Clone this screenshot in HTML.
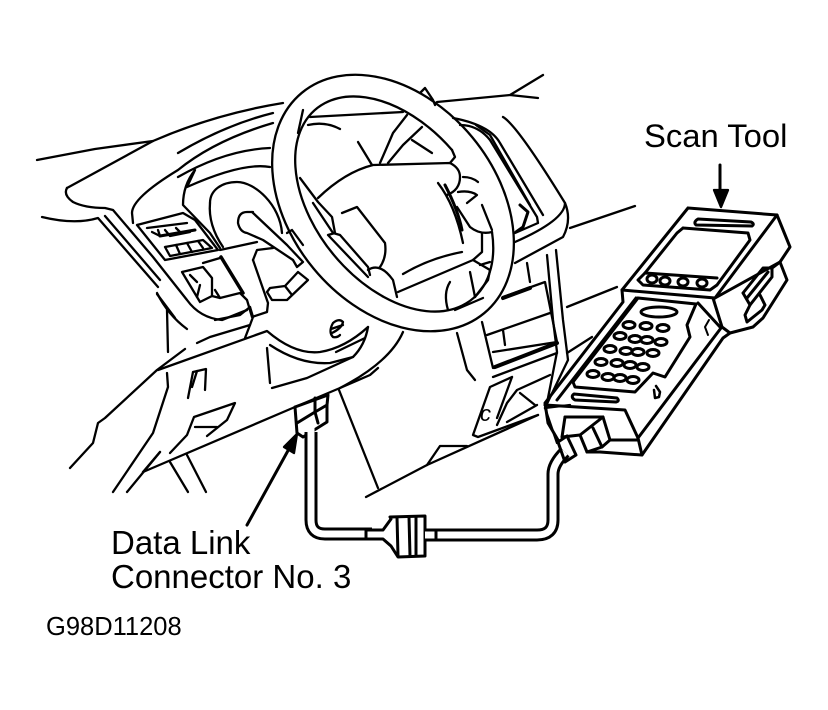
<!DOCTYPE html>
<html><head><meta charset="utf-8"><style>
html,body{margin:0;padding:0;background:#fff}
svg{display:block}
polyline,path,ellipse,rect{fill:none;stroke:#000;stroke-width:2.3;stroke-linejoin:round;stroke-linecap:round}
.t polyline,.t path,.t ellipse{stroke-width:3}
text{font-family:"Liberation Sans",sans-serif;fill:#000}
</style></head><body>
<svg width="828" height="710" viewBox="0 0 828 710" xmlns="http://www.w3.org/2000/svg">
<!-- dash left -->
<polyline points="37,160 95,149 153,141"/>
<path d="M67,188 L153,141 Q215,114 283,103"/>
<path d="M67,188 Q63,195 73,202 Q85,208 105,208 L113,210 L153,257 L187,300 Q200,318 222,320 L247,310"/>
<path d="M42,217 Q75,225 98,218 L158,287"/>
<polyline points="105,216 160,280"/>
<polyline points="157,294 175,318"/>
<path d="M178,153 Q225,125 273,113"/>
<path d="M178,177 Q225,150 270,148"/>
<path d="M273,123 Q215,140 178,170 Q132,198 132,213 L133,223"/>
<path d="M270,167 Q243,162 187,187 L195,170 Q183,185 183,205 L210,233 L220,248"/>
<path d="M210,203 C210,190 222,182 237,182 C255,182 280,205 282,233"/>
<path d="M210,203 Q208,225 223,247"/>
<!-- lever -->
<path d="M253,212 L247,212 Q238,212 238,223 Q240,232 247,233 L263,240 L293,260 L297,267 L303,262 L287,245 L252,212"/>
<polyline points="220,250 257,242"/>
<polyline points="253,260 257,250 273,248"/>
<polyline points="253,260 268,303 267,312 252,317 247,300 240,293 220,298 215,290"/>
<polyline points="287,233 292,230 303,245"/>
<!-- knob -->
<polyline points="267,292 270,288 285,286 298,272 308,280 287,300 272,300 267,292"/>
<polyline points="285,286 292,295"/>
<!-- vent -->
<polyline points="137,225 183,213 195,220 218,250 165,260 137,225"/>
<polyline points="147,228 187,223"/>
<polyline points="152,232 160,236 158,230"/>
<polyline points="165,230 170,236 190,232"/>
<polyline points="176,228 180,232"/>
<polyline points="165,247 203,240 212,248 170,256 165,247"/>
<polyline points="176,245 180,254"/>
<polyline points="187,243 192,252"/>
<polyline points="198,241 203,248"/>
<polyline points="160,236 195,230" style="stroke-width:3"/>
<!-- switch -->
<polyline points="182,272 203,267 212,278 212,296 200,302 182,272"/>
<polyline points="203,263 220,258"/>
<polyline points="190,275 197,282"/>
<polyline points="200,285 197,297"/>
<polyline points="212,296 220,298"/>
<polyline points="221,257 243,293" style="stroke-width:3.5"/>
<!-- steering wheel -->
<ellipse cx="393" cy="203" rx="143" ry="103" transform="rotate(50.4 393 203)"/>
<path d="M492,232 A123,79 50.7 1 1 452,150"/>
<polyline points="303,110 298,133"/>
<polyline points="310,117 403,112"/>
<path d="M308,125 Q325,121 340,129"/>
<polyline points="358,142 372,165"/>
<polyline points="407,115 393,133 390,140 380,163"/>
<polyline points="422,127 403,145 388,163"/>
<polyline points="412,140 432,153"/>
<path d="M318,198 Q345,172 373,165 L450,163 Q460,168 460,177 Q460,190 447,195"/>
<polyline points="452,150 455,157 450,163"/>
<path d="M438,183 Q455,205 463,243"/>
<path d="M445,185 Q458,210 462,230" style="stroke-width:3"/>
<path d="M463,177 Q472,177 478,182"/>
<path d="M458,192 Q470,190 477,195 L467,203"/>
<path d="M457,207 L470,227 Q480,235 492,232"/>
<polyline points="482,205 492,230"/>
<polyline points="482,233 482,252 473,260 398,292"/>
<polyline points="473,260 490,270 488,280 475,297"/>
<polyline points="490,262 480,265"/>
<path d="M403,274 Q430,258 462,252"/>
<polyline points="470,272 475,297"/>
<path d="M450,282 Q443,293 448,310"/>
<polyline points="455,310 483,298"/>
<polyline points="300,178 318,202 332,217 335,233 328,235 368,277"/>
<polyline points="313,203 333,233 340,235 368,267 370,275"/>
<path d="M368,270 Q380,262 393,280 L397,297"/>
<path d="M342,213 L357,207 L385,243 Q387,257 380,267"/>
<!-- right of wheel -->
<polyline points="437,102 510,95 543,75"/>
<polyline points="510,95 538,98"/>
<polyline points="420,93 425,88 433,100 435,105"/>
<path d="M503,117 Q517,125 565,203 Q572,220 563,237 L515,263"/>
<path d="M565,203 Q565,220 515,242"/>
<path d="M453,118 Q490,125 500,143 L543,215"/>
<path d="M460,125 Q478,125 490,140 L537,217 L538,223 L515,233"/>
<polyline points="476,125 490,135 530,205"/>
<polyline points="520,205 528,212 523,227 516,232" style="stroke-width:3"/>
<polyline points="527,263 530,282"/>
<polyline points="570,228 635,206"/>
<polyline points="567,307 617,287"/>
<polyline points="567,353 592,337"/>
<!-- pillar -->
<polyline points="547,255 553,320 557,352 547,403"/>
<polyline points="556,250 563,320 568,360 545,408"/>
<polyline points="545,408 557,443"/>
<polyline points="545,408 570,405"/>
<!-- centre box -->
<polyline points="482,322 493,368 557,342"/>
<polyline points="503,297 545,282 557,342"/>
<polyline points="487,335 550,313"/>
<polyline points="493,352 557,342"/>
<polyline points="495,367 557,343" style="stroke-width:4"/>
<polyline points="503,298 530,288" style="stroke-width:4"/>
<polyline points="503,330 505,345"/>
<polyline points="493,377 557,353"/>
<polyline points="550,375 517,390 507,403 497,425"/>
<polyline points="512,377 497,418"/>
<polyline points="512,377 490,387 473,435 478,437 538,415"/>
<polyline points="520,393 535,405"/>
<polyline points="537,405 507,422"/>
<text x="480" y="421" font-size="22" font-style="italic">c</text>
<polyline points="366,497 427,465 538,415"/>
<polyline points="339,390 378,488"/>
<polyline points="427,465 440,446 467,446"/>
<path d="M403,332 Q390,362 340,388"/>
<path d="M457,333 L467,370 L475,380"/>
<!-- lower dash -->
<path d="M157,293 Q168,315 187,329"/>
<polyline points="167,310 168,352"/>
<polyline points="185,349 157,370 105,418 98,423 93,443 70,468"/>
<path d="M158,370 L267,331 Q295,355 320,352 Q345,348 368,327"/>
<path d="M270,345 Q300,365 330,363 L353,357"/>
<polyline points="267,348 270,383"/>
<path d="M272,388 L307,378 L353,357 Q365,345 368,327"/>
<polyline points="336,352 365,338"/>
<polyline points="143,472 295,407 340,388 370,375 378,368"/>
<polyline points="167,373 168,387 153,433 113,492"/>
<polyline points="160,452 127,492"/>
<polyline points="143,472 160,452"/>
<polyline points="170,462 188,492"/>
<polyline points="187,455 206,492"/>
<polyline points="188,398 193,372 206,369 205,390"/>
<polyline points="197,371 192,387"/>
<polyline points="170,453 187,435 194,417 235,403 227,420 207,436"/>
<polyline points="195,427 217,427"/>
<polyline points="197,343 210,337 250,325 253,317 250,307"/>
<polyline points="250,325 245,338"/>
<polyline points="250,307 240,315 215,320"/>
<path d="M332,333 Q342,328 343,322 Q339,318 333,323 Q328,332 333,337 Q337,338 340,335 M331,329 L343,325"/>
<!-- DLC -->
<g class="t">
<polyline points="295,407 297,433 303,437 327,422 327,405 328,395 295,407"/>
<polyline points="297,423 315,412"/>
<polyline points="315,398 315,412 327,405"/>
<polyline points="315,412 318,423"/>
</g>
<!-- arrows -->
<polyline points="247,525 290,447" style="stroke-width:3"/>
<path d="M297,434 L284,447 L294,453 Z" style="fill:#000"/>
<polyline points="720,165 720,192" style="stroke-width:3"/>
<path d="M714,190 L728,190 L721,207 Z" style="fill:#000"/>
<!-- cable -->
<path d="M311,432 L311,520 Q311,534 325,534 L372,534" style="stroke-width:13;stroke-linecap:butt"/>
<path d="M311,428 L311,520 Q311,534 325,534 L372,534" style="stroke-width:7;stroke:#fff;stroke-linecap:butt"/>
<path d="M432,535 L537,535 Q553,535 553,520 L553,474 Q553,464 565,452" style="stroke-width:13;stroke-linecap:butt"/>
<path d="M428,535 L537,535 Q553,535 553,520 L553,474 Q553,464 565,452" style="stroke-width:7;stroke:#fff;stroke-linecap:butt"/>
<g class="t">
<path d="M367,530 L383,530 L391,519 L390,517 L425,516 L425,556 L398,557 L391,546 L383,539 L367,539" style="fill:#fff"/>
<path d="M425,530 L436,530 L436,540 L425,540" style="fill:#fff"/>
<polyline points="397,517 398,556"/>
<polyline points="409,517 410,556"/>
<polyline points="416,517 416,556"/>
<polyline points="366,530 366,539"/>
</g>
<!-- scan tool -->
<g class="t">
<polyline points="688,208 777,215 790,247 780,262 715,298 622,290 688,208"/>
<polyline points="777,215 715,298"/>
<path d="M698,219 L751,222 Q755,224 752,226 L696,225 Q693,222 698,219 Z"/>
<polyline points="683,228 748,233 750,240 717,285 710,290 643,285 638,280 645,273 677,233 683,228"/>
<polyline points="645,273 717,278"/>
<ellipse cx="652" cy="279" rx="5" ry="4"/>
<ellipse cx="665" cy="281" rx="5" ry="4"/>
<ellipse cx="683" cy="282" rx="5" ry="4"/>
<ellipse cx="702" cy="283" rx="5" ry="4"/>
<polyline points="622,290 623,302 545,403 548,423 558,440"/>
<polyline points="636,298 557,400"/>
<polyline points="780,262 787,280 763,318 753,327 730,333 723,338 642,455 600,452"/>
<polyline points="721,328 638,438"/>
<polyline points="743,293 763,268 772,268 772,277 750,305 743,293"/>
<polyline points="747,298 768,272"/>
<polyline points="750,305 745,315 747,322 762,310 765,305 760,295"/>
<polyline points="780,262 772,268"/>
<polyline points="713,298 722,327 730,333"/>
<polyline points="698,303 720,327"/>
<polyline points="638,298 696,304 687,325 690,337 665,377 653,373 635,392 575,387 573,382 638,298"/>
<ellipse cx="659" cy="312" rx="18" ry="5"/>
<ellipse cx="629" cy="325" rx="6" ry="3.5"/>
<ellipse cx="646" cy="326" rx="6" ry="3.5"/>
<ellipse cx="663" cy="328" rx="6" ry="3.5"/>
<ellipse cx="620" cy="336" rx="6" ry="3.5"/>
<ellipse cx="635" cy="339" rx="6" ry="3.5"/>
<ellipse cx="647" cy="340" rx="6" ry="3.5"/>
<ellipse cx="661" cy="342" rx="6" ry="3.5"/>
<ellipse cx="610" cy="349" rx="6" ry="3.5"/>
<ellipse cx="626" cy="351" rx="6" ry="3.5"/>
<ellipse cx="638" cy="352" rx="6" ry="3.5"/>
<ellipse cx="653" cy="353" rx="6" ry="3.5"/>
<ellipse cx="601" cy="362" rx="6" ry="3.5"/>
<ellipse cx="617" cy="363" rx="6" ry="3.5"/>
<ellipse cx="630" cy="365" rx="6" ry="3.5"/>
<ellipse cx="643" cy="367" rx="6" ry="3.5"/>
<ellipse cx="593" cy="374" rx="6" ry="3.5"/>
<ellipse cx="608" cy="377" rx="6" ry="3.5"/>
<ellipse cx="620" cy="378" rx="6" ry="3.5"/>
<ellipse cx="633" cy="380" rx="6" ry="3.5"/>
<path d="M574,394 L617,398 Q620,401 616,402 L575,400 Q570,397 574,394 Z"/>
<polyline points="545,405 625,410 638,438 642,455"/>
<polyline points="565,417 603,417 610,440 638,440"/>
<polyline points="565,417 562,437"/>
<polyline points="603,417 580,435 587,452 602,447 610,440"/>
<polyline points="593,428 602,447"/>
<polyline points="562,437 580,435"/>
<polyline points="558,442 567,436 576,455 565,462 558,442"/>
<polyline points="600,452 587,452"/>
</g>
<polyline points="656,386 660,392 659,397 655,398 654,390" style="stroke-width:2.5"/>
<polyline points="709,320 705,327 708,335" style="stroke-width:2"/>
<!-- labels -->
<text x="644" y="147" font-size="32.8">Scan Tool</text>
<text x="111" y="554" font-size="33">Data Link</text>
<text x="111" y="588" font-size="33">Connector No. 3</text>
<text x="46" y="635" font-size="25.5">G98D11208</text>
</svg>
</body></html>
